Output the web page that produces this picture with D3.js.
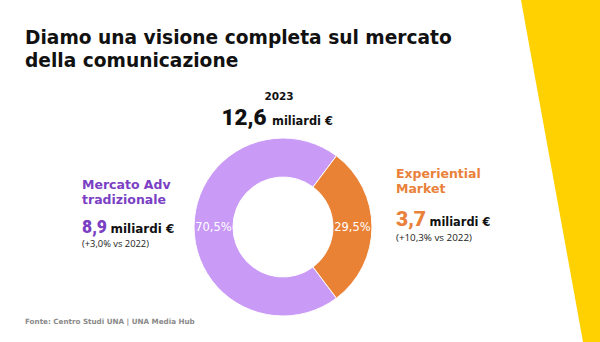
<!DOCTYPE html>
<html>
<head>
<meta charset="utf-8">
<script src="https://cdn.jsdelivr.net/npm/d3@7"></script>
<style>
  html, body { margin: 0; padding: 0; background: #fff; }
  svg { display: block; }
</style>
</head>
<body>
<svg id="chart" width="600" height="342"></svg>
<script>
// Market segments and their figures (2023)
const segments = ["Mercato Adv tradizionale", "Experiential Market"];
const shares = [70.5, 29.5];          // % of total
const valuesBn = [8.9, 3.7];          // miliardi €
const growthPct = [3.0, 10.3];        // vs 2022
const totalBn = 12.6;
const year = "2023";
const prevYear = "2022";
const colors = ["#c99af6", "#ea8236"];
const labelColors = ["#7b3fc4", "#e9813a"];

const it = d3.formatLocale({decimal: ",", thousands: ".", grouping: [3], currency: ["", " €"]});
const f1 = it.format(".1f");

const svg = d3.select("#chart");
const FONT = "'DejaVu Sans', sans-serif";
const NUMFONT = "Roboto, 'DejaVu Sans', sans-serif";
const NOTEFONT = "'Open Sans', 'DejaVu Sans', sans-serif";

// Fit a text element to a target width by scaling its font size
function fit(sel, width) {
  const node = sel.node();
  const fs = parseFloat(sel.attr("font-size"));
  const w = node.getComputedTextLength();
  sel.attr("font-size", (fs * width / w).toFixed(2));
  return sel;
}

// yellow band on the right edge
svg.append("path")
  .attr("d", "M521,0 L600,0 L600,342 L583,342 Z")
  .attr("fill", "#ffd100");

// title
const title = ["Diamo una visione completa sul mercato", "della comunicazione"];
const t1 = svg.append("text").attr("x", 25).attr("y", 43.5)
  .attr("font-family", FONT).attr("font-weight", 700).attr("font-size", 18)
  .attr("fill", "#111").text(title[0]);
fit(t1, 427);
svg.append("text").attr("x", 25).attr("y", 66.5)
  .attr("font-family", FONT).attr("font-weight", 700).attr("font-size", t1.attr("font-size"))
  .attr("fill", "#111").text(title[1]);

// donut
const cx = 283, cy = 227, rOuter = 89, rInner = 50;
const a0 = Math.PI / 2 + (shares[1] / 100) * Math.PI;
const pie = d3.pie().sort(null).value(d => d).startAngle(a0).endAngle(a0 + 2 * Math.PI);
const arc = d3.arc().innerRadius(rInner).outerRadius(rOuter);
const arcs = pie(shares);
const g = svg.append("g").attr("transform", `translate(${cx},${cy})`);
g.selectAll("path").data(arcs).join("path")
  .attr("d", arc)
  .attr("fill", (d, i) => colors[i])
  .attr("stroke", "#fff").attr("stroke-width", 1);
g.selectAll("text").data(arcs).join("text")
  .attr("transform", d => `translate(${arc.centroid(d)})`)
  .attr("text-anchor", "middle").attr("dy", "0.36em")
  .attr("font-family", FONT).attr("font-size", 11.5)
  .attr("fill", "#fff")
  .text(d => f1(d.data) + "%");

// total above the donut
svg.append("text").attr("x", 279).attr("y", 100).attr("text-anchor", "middle")
  .attr("font-family", FONT).attr("font-weight", 700).attr("font-size", 10.5)
  .attr("fill", "#111").text(year);
const totNum = svg.append("text").attr("x", 221.5).attr("y", 124.5)
  .attr("font-family", NUMFONT).attr("font-weight", 900).attr("font-size", 20)
  .attr("fill", "#111").text(f1(totalBn));
fit(totNum, 45);
const totUnit = svg.append("text").attr("x", 272).attr("y", 124.5)
  .attr("font-family", FONT).attr("font-weight", 700).attr("font-size", 12)
  .attr("fill", "#111").text("miliardi €");
fit(totUnit, 61);

// side labels
const sides = [
  {x: 82, lines: ["Mercato Adv", "tradizionale"], y0: 189, num: 232.5, numW: 25, unitX: 110.5, unitW: 64, note: 246.5, noteW: 67},
  {x: 396, lines: ["Experiential", "Market"], y0: 177.5, num: 226, numW: 30, unitX: 429.5, unitW: 61, note: 241, noteW: 76}
];
sides.forEach((s, i) => {
  s.lines.forEach((ln, j) => {
    svg.append("text").attr("x", s.x).attr("y", s.y0 + j * 15)
      .attr("font-family", FONT).attr("font-weight", 700).attr("font-size", 12.5)
      .attr("fill", labelColors[i]).text(ln);
  });
  const n = svg.append("text").attr("x", s.x).attr("y", s.num)
    .attr("font-family", NUMFONT).attr("font-weight", 900).attr("font-size", 20)
    .attr("fill", labelColors[i]).text(f1(valuesBn[i]));
  fit(n, s.numW);
  const u = svg.append("text").attr("x", s.unitX).attr("y", s.num)
    .attr("font-family", FONT).attr("font-weight", 700).attr("font-size", 12)
    .attr("fill", "#111").text("miliardi €");
  fit(u, s.unitW);
  const nt = svg.append("text").attr("x", s.x).attr("y", s.note)
    .attr("font-family", NOTEFONT).attr("font-size", 9.5)
    .attr("fill", "#222").text(`(+${f1(growthPct[i])}% vs ${prevYear})`);
  fit(nt, s.noteW);
});

// source
const src = svg.append("text").attr("x", 25).attr("y", 323.5)
  .attr("font-family", FONT).attr("font-weight", 700).attr("font-size", 8)
  .attr("fill", "#8a8a8a").text("Fonte: Centro Studi UNA | UNA Media Hub");
fit(src, 170);
</script>
</body>
</html>
